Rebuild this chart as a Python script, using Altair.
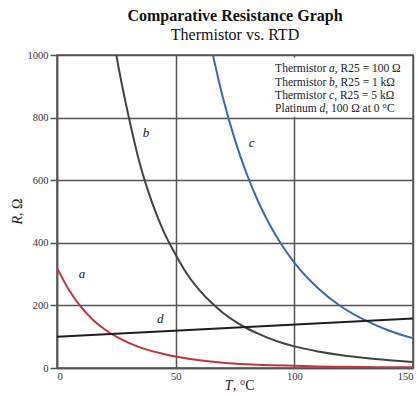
import altair as alt
import pandas as pd

# ---- data ----
T_a = [0, 5, 10, 15, 20, 25, 30, 35, 40, 45, 50, 60, 70, 80, 90, 100, 110, 120, 130, 140, 150]
R_a = [320, 250, 196, 155, 124, 100, 81, 66, 54, 45, 37, 25, 17, 12, 9, 7, 5, 4, 3, 2.5, 2]

T_b = [24, 25, 30, 35, 40, 45, 50, 55, 60, 65, 70, 75, 80, 85, 90, 95, 100, 110, 120, 130, 140, 150]
R_b = [1045, 1000, 810, 650, 530, 435, 362, 298, 249, 209, 176, 149, 127, 109, 93, 80, 69, 53, 41, 32, 25, 19]

T_c = [65, 70, 75, 80, 85, 90, 95, 100, 110, 120, 130, 140, 150]
R_c = [1023, 861, 728, 619, 528, 453, 390, 337, 255, 195, 152, 119, 95]

T_d = [0, 150]
R_d = [100, 158]

series = ["a", "b", "c", "d"]
colors = ["#c3343f", "#3d473f", "#3b69ad", "#1e1e1e"]

label_text = ["a", "b", "c", "d"]
label_T = [10.5, 37.5, 82, 43.5]
label_R = [300, 750, 718, 156]

# legend text pieces: prefix (regular), letter (italic), rest (regular)
legend_prefix = ["Thermistor ", "Thermistor ", "Thermistor ", "Platinum "]
legend_letter = ["a", "b", "c", "d"]
legend_rest = [", R25 = 100 Ω", ", R25 = 1 kΩ", ", R25 = 5 kΩ", ", 100 Ω at 0 °C"]
legend_R = [955, 912, 869, 826]
legend_T = 91.9

x_title = ("T", ", °C")
y_title = ("R", ", Ω")

SERIF = "Liberation Serif"
LEG_FS = 11.5
# approximate advance widths (em) of the Times-metric serif
prefix_w = {"Thermistor ": 4.694, "Platinum ": 3.862}
letter_w = {"a": 0.5, "b": 0.5, "c": 0.444, "d": 0.5}

rows = []
for s, T, R in zip(series, [T_a, T_b, T_c, T_d], [R_a, R_b, R_c, R_d]):
    for t, r in zip(T, R):
        rows.append({"T": t, "R": r, "s": s})
df = pd.DataFrame(rows)

x_scale = alt.Scale(domain=[0, 150], nice=False)
y_scale = alt.Scale(domain=[0, 1000], nice=False)

lines = alt.Chart(df).mark_line(interpolate="monotone", clip=True, strokeWidth=2).encode(
    x=alt.X("T:Q", scale=x_scale,
            axis=alt.Axis(values=[0, 50, 100, 150], title=None, ticks=False, labelPadding=3,
                          format="d")),
    y=alt.Y("R:Q", scale=y_scale,
            axis=alt.Axis(values=[0, 200, 400, 600, 800, 1000], title=None, tickSize=7,
                          labelPadding=2, format="d")),
    color=alt.Color("s:N", scale=alt.Scale(domain=series, range=colors), legend=None),
)

box_df = pd.DataFrame({"x": [89.5], "x2": [149.6], "y": [803], "y2": [992]})
box = alt.Chart(box_df).mark_rect(fill="white").encode(
    x="x:Q", x2="x2:Q", y="y:Q", y2="y2:Q"
)

layers = [lines, box]

for i in range(4):
    one = pd.DataFrame({"T": [legend_T], "R": [legend_R[i]],
                        "p": [legend_prefix[i]], "l": [legend_letter[i]], "r": [legend_rest[i]]})
    dx1 = prefix_w[legend_prefix[i]] * LEG_FS
    dx2 = dx1 + letter_w[legend_letter[i]] * LEG_FS
    base = alt.Chart(one)
    layers.append(base.mark_text(align="left", baseline="middle", font=SERIF, fontSize=LEG_FS,
                                 fontWeight="normal", color="#222").encode(
        x="T:Q", y="R:Q", text="p:N"))
    layers.append(base.mark_text(align="left", baseline="middle", font=SERIF, fontSize=LEG_FS,
                                 fontWeight="normal", fontStyle="italic", color="#222",
                                 dx=dx1).encode(x="T:Q", y="R:Q", text="l:N"))
    layers.append(base.mark_text(align="left", baseline="middle", font=SERIF, fontSize=LEG_FS,
                                 fontWeight="normal", color="#222", dx=dx2).encode(
        x="T:Q", y="R:Q", text="r:N"))

lab_df = pd.DataFrame({"txt": label_text, "T": label_T, "R": label_R})
layers.append(alt.Chart(lab_df).mark_text(font=SERIF, fontSize=13, fontStyle="italic",
                                          fontWeight="normal", color="#222").encode(
    x="T:Q", y="R:Q", text="txt:N"))

# axis titles with italic variable letter
xt = pd.DataFrame({"T": [74.0], "R": [-58.0], "a": [x_title[0]], "b": [x_title[1]]})
layers.append(alt.Chart(xt).mark_text(align="right", baseline="middle", font=SERIF, fontSize=14,
                                      fontStyle="italic", fontWeight="normal",
                                      color="#222").encode(x="T:Q", y="R:Q", text="a:N"))
layers.append(alt.Chart(xt).mark_text(align="left", baseline="middle", font=SERIF, fontSize=14,
                                      fontWeight="normal", color="#222").encode(
    x="T:Q", y="R:Q", text="b:N"))

yt = pd.DataFrame({"T": [-16.5], "R": [486.0], "a": [y_title[0]], "b": [y_title[1]]})
layers.append(alt.Chart(yt).mark_text(align="right", baseline="middle", font=SERIF, fontSize=14,
                                      fontStyle="italic", fontWeight="normal", angle=270,
                                      color="#222").encode(x="T:Q", y="R:Q", text="a:N"))
layers.append(alt.Chart(yt).mark_text(align="left", baseline="middle", font=SERIF, fontSize=14,
                                      fontWeight="normal", angle=270, color="#222").encode(
    x="T:Q", y="R:Q", text="b:N"))

chart = alt.layer(*layers).properties(
    width=356,
    height=313,
    autosize=alt.AutoSizeParams(type="none"),
    padding={"left": 57, "top": 55, "right": 5, "bottom": 28},
    title=alt.TitleParams(
        "Comparative Resistance Graph",
        subtitle="Thermistor vs. RTD",
        font=SERIF, fontSize=16, fontWeight="bold", color="#111",
        subtitleFont=SERIF, subtitleFontSize=16, subtitleColor="#111",
        anchor="middle", offset=7, subtitlePadding=3,
    ),
).configure_view(
    stroke="#555", strokeWidth=1.5
).configure_axis(
    labelFont=SERIF, labelFontSize=10.5, labelColor="#333",
    gridColor="#555", gridWidth=1.5, gridOpacity=1,
    domainColor="#555", domainWidth=1.5, tickColor="#555", tickWidth=1.5,
)

chart.save("out.html", embed_options={"renderer": "svg", "actions": False})
